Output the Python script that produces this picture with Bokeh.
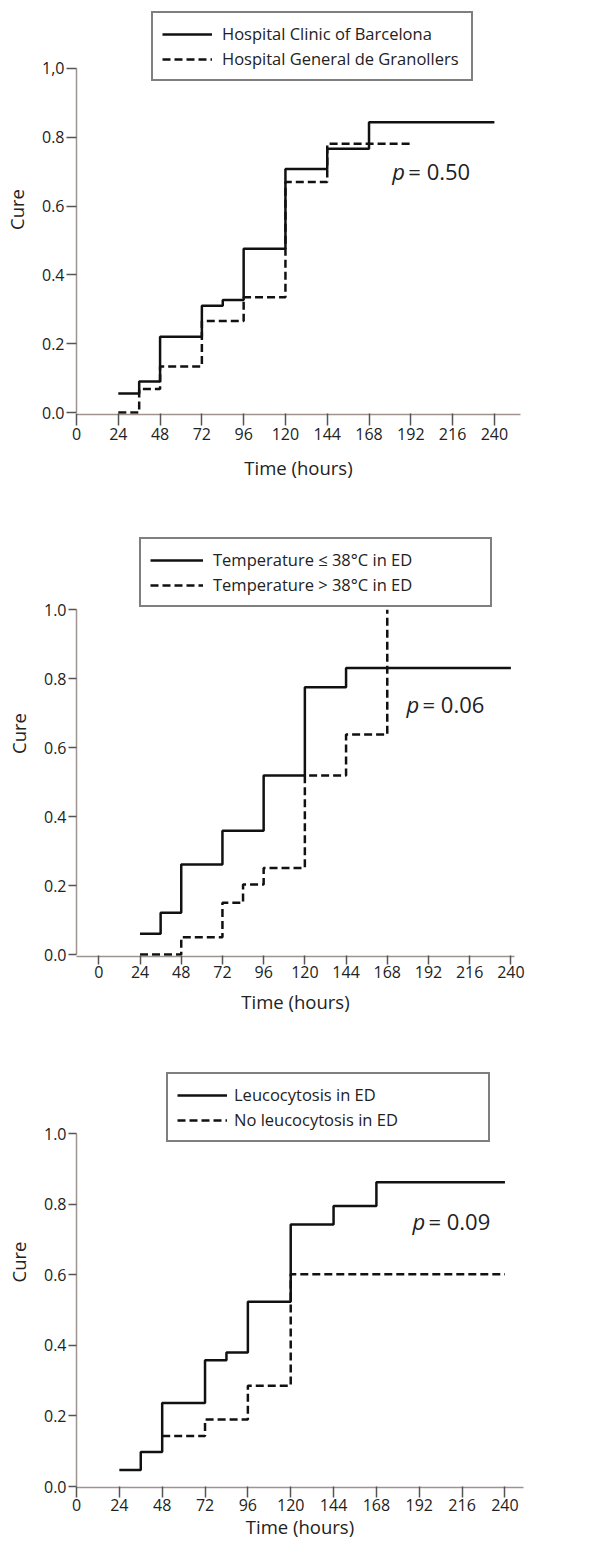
from bokeh.plotting import figure
from bokeh.models import (FixedTicker, Legend, LegendItem, Label, Range1d,
                          PrintfTickFormatter)
from bokeh.layouts import column
from bokeh.embed import file_html
from bokeh.resources import INLINE

# ---------------- data ----------------
x_ticks = [0, 24, 48, 72, 96, 120, 144, 168, 192, 216, 240]
y_ticks = [0.0, 0.2, 0.4, 0.6, 0.8, 1.0]

# Panel 1: hospitals
hcb_label = "Hospital Clinic of Barcelona"
hcb_time = [24, 36, 48, 72, 84, 96, 120, 144, 168, 240]
hcb_cure = [0.055, 0.09, 0.22, 0.31, 0.327, 0.476, 0.708, 0.767, 0.844, 0.844]
hgg_label = "Hospital General de Granollers"
hgg_time = [24, 36, 48, 72, 96, 120, 144, 192]
hgg_cure = [0.0, 0.068, 0.134, 0.266, 0.335, 0.67, 0.781, 0.781]
p1_value = "0.50"

# Panel 2: temperature
tlow_label = "Temperature \u2264 38\u00b0C in ED"
tlow_time = [24, 36, 48, 72, 96, 120, 144, 240]
tlow_cure = [0.06, 0.121, 0.261, 0.359, 0.519, 0.775, 0.831, 0.831]
thigh_label = "Temperature > 38\u00b0C in ED"
thigh_time = [24, 48, 72, 84, 96, 120, 144, 168]
thigh_cure = [0.0, 0.05, 0.15, 0.203, 0.251, 0.519, 0.638, 1.0]
p2_value = "0.06"

# Panel 3: leucocytosis
leu_label = "Leucocytosis in ED"
leu_time = [24, 36, 48, 72, 84, 96, 120, 144, 168, 240]
leu_cure = [0.047, 0.098, 0.237, 0.358, 0.38, 0.524, 0.743, 0.795, 0.863, 0.863]
noleu_label = "No leucocytosis in ED"
noleu_time = [48, 72, 96, 120, 240]
noleu_cure = [0.143, 0.19, 0.286, 0.602, 0.602]
p3_value = "0.09"

x_axis_title = "Time (hours)"
y_axis_title = "Cure"

FONT = "Open Sans"
LINE = "#111111"
AXIS = "#9e938e"
TICK = "#555555"
TEXT = "#222222"


def make_panel(solid, dashed, pval, cfg):
    p = figure(frame_width=cfg["fw"], frame_height=cfg["fh"],
               output_backend="svg", toolbar_location=None,
               x_range=Range1d(*cfg["xr"]), y_range=Range1d(*cfg["yr"]),
               min_border_top=cfg["mt"], min_border_bottom=cfg["mb"],
               min_border_left=cfg["ml"], min_border_right=cfg["mr"])
    p.outline_line_color = None
    p.border_fill_color = "white"
    p.background_fill_color = "white"
    p.xgrid.visible = False
    p.ygrid.visible = False

    r1 = p.step(solid[0], solid[1], mode="after", line_color=LINE,
                line_width=2.5)
    r2 = p.step(dashed[0], dashed[1], mode="after", line_color=LINE,
                line_width=2.5, line_dash="8 4")

    # x axis
    xa = p.xaxis[0]
    xa.ticker = FixedTicker(ticks=x_ticks)
    xa.axis_label = x_axis_title
    xa.axis_label_text_font = FONT
    xa.axis_label_text_font_size = "18.5px"
    xa.axis_label_text_font_style = "normal"
    xa.axis_label_text_color = TEXT
    xa.axis_label_standoff = cfg["xals"]
    xa.major_label_text_font = FONT
    xa.major_label_text_font_size = "16px"
    xa.major_label_text_color = TEXT
    xa.major_label_standoff = cfg["xls"]
    xa.major_tick_out = cfg["xto"]
    xa.major_tick_in = 1
    xa.minor_tick_out = 0
    xa.minor_tick_in = 0
    xa.axis_line_color = AXIS
    xa.axis_line_width = 1.5
    xa.major_tick_line_color = TICK
    xa.major_tick_line_width = 1.5

    # y axis
    ya = p.yaxis[0]
    ya.ticker = FixedTicker(ticks=y_ticks)
    ya.formatter = PrintfTickFormatter(format="%.1f")
    if cfg.get("comma"):
        ya.major_label_overrides = {1: "1,0"}
    ya.bounds = (0, 1)
    ya.axis_label = y_axis_title
    ya.axis_label_text_font = FONT
    ya.axis_label_text_font_size = "18.5px"
    ya.axis_label_text_font_style = "normal"
    ya.axis_label_text_color = TEXT
    ya.axis_label_standoff = cfg["yals"]
    ya.major_label_text_font = FONT
    ya.major_label_text_font_size = "16px"
    ya.major_label_text_color = TEXT
    ya.major_label_standoff = 2
    ya.major_tick_out = cfg["yto"]
    ya.major_tick_in = 0
    ya.minor_tick_out = 0
    ya.minor_tick_in = 0
    ya.axis_line_color = AXIS
    ya.axis_line_width = 1.5
    ya.major_tick_line_color = TICK
    ya.major_tick_line_width = 1.5

    legend = Legend(items=[LegendItem(label=solid[2], renderers=[r1]),
                           LegendItem(label=dashed[2], renderers=[r2])],
                    location=cfg["leg"])
    legend.label_text_font = FONT
    legend.label_text_font_size = "16.5px"
    legend.label_text_color = TEXT
    legend.border_line_color = "black"
    legend.border_line_width = 2
    legend.background_fill_color = "white"
    legend.background_fill_alpha = 1
    legend.padding = 9
    legend.spacing = 2
    legend.margin = 0
    legend.glyph_width = cfg["gw"]
    legend.glyph_height = 20
    legend.label_standoff = cfg["ls"]
    legend.label_width = cfg["lw"]
    legend.label_height = 20
    p.add_layout(legend)

    px, py = cfg["pxy"]
    p.add_layout(Label(x=px, y=py, text="p", text_font=FONT,
                       text_font_size="22px", text_font_style="italic",
                       text_baseline="middle", text_color=TEXT))
    p.add_layout(Label(x=px, y=py, x_offset=16, text="= " + pval,
                       text_font=FONT, text_font_size="22px",
                       text_baseline="middle", text_color=TEXT))
    return p


cfg1 = dict(fw=444, fh=410, mt=4, mb=86, ml=68, mr=86, xr=(0, 255),
            yr=(-0.0058, 1.186), yto=10, xto=11, xls=2, xals=12, yals=10,
            leg=(75, 333), lw=240, gw=50, ls=10, pxy=(181.4, 0.703),
            comma=True)
cfg2 = dict(fw=438, fh=446, mt=10, mb=74, ml=65, mr=95, xr=(-13, 242.1),
            yr=(-0.0058, 1.2881), yto=8, xto=8, xls=1, xals=8, yals=10,
            leg=(63, 349), lw=268, gw=53, ls=10, pxy=(179.2, 0.728))
cfg3 = dict(fw=447, fh=451, mt=6, mb=54, ml=65, mr=86, xr=(0, 250.4),
            yr=(-0.0028, 1.2759), yto=8, xto=10, xls=1, xals=0, yals=10,
            leg=(90, 345), lw=245, gw=50, ls=7, pxy=(188.2, 0.752))

p1 = make_panel((hcb_time, hcb_cure, hcb_label),
                (hgg_time, hgg_cure, hgg_label), p1_value, cfg1)
p2 = make_panel((tlow_time, tlow_cure, tlow_label),
                (thigh_time, thigh_cure, thigh_label), p2_value, cfg2)
p3 = make_panel((leu_time, leu_cure, leu_label),
                (noleu_time, noleu_cure, noleu_label), p3_value, cfg3)

layout = column(p1, p2, p3)
open("out.html", "w").write(file_html(layout, INLINE))
